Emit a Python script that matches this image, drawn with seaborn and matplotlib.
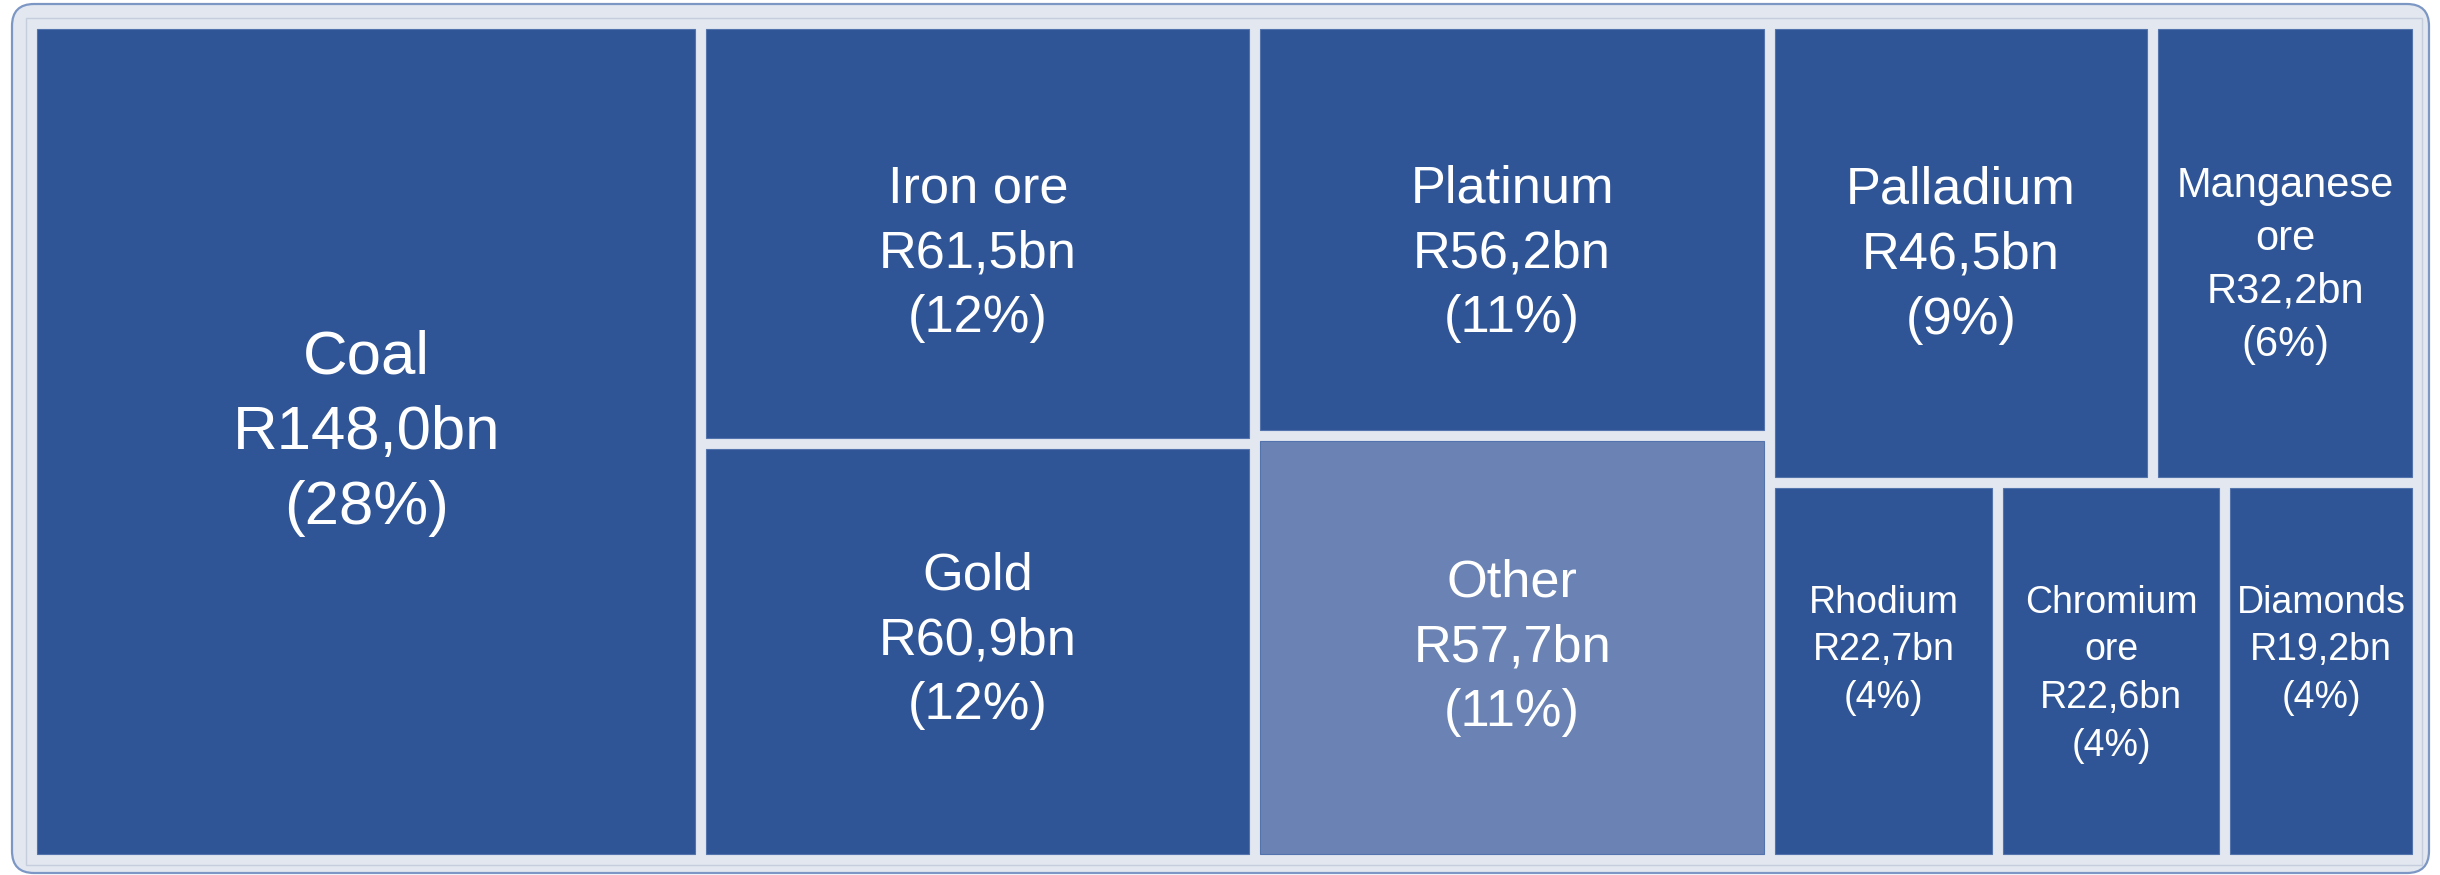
import numpy as np
import pandas as pd
import matplotlib.pyplot as plt
from matplotlib.patches import Rectangle, FancyBboxPatch
import seaborn as sns

# mining sales by mineral, R billion
minerals = ["Coal", "Iron ore", "Gold", "Platinum", "Other", "Palladium",
            "Manganese ore", "Rhodium", "Chromium ore", "Diamonds"]
sales_bn = [148.0, 61.5, 60.9, 56.2, 57.7, 46.5, 32.2, 22.7, 22.6, 19.2]

# how the tiles nest: columns, each column split into rows, rows split across
groups = [["Coal"],
          ["Iron ore", "Gold"],
          ["Platinum", "Other"],
          [["Palladium", "Manganese ore"], ["Rhodium", "Chromium ore", "Diamonds"]]]

df = pd.DataFrame({"mineral": minerals, "sales": sales_bn})
total = df["sales"].sum()
df["share"] = (df["sales"] / total * 100).round().astype(int)
df = df.set_index("mineral")

# style
W, H = 2440, 875
GAP = 11
DARK = "#2F5597"
LIGHT = "#6A83B4"
label_size = {"Coal": 44.5, "Iron ore": 37.7, "Gold": 37.7, "Platinum": 37.7,
              "Other": 37.7, "Palladium": 37.7, "Manganese ore": 30,
              "Rhodium": 27, "Chromium ore": 27, "Diamonds": 27}
# small vertical nudges (px) so the labels sit where Excel put them
label_nudge = {"Coal": -8, "Iron ore": 20, "Gold": -11, "Platinum": 24,
               "Other": 0, "Palladium": 12, "Manganese ore": 12,
               "Rhodium": 3, "Chromium ore": 3, "Diamonds": 3}


def group_total(node):
    if isinstance(node, str):
        return df.loc[node, "sales"]
    return sum(group_total(n) for n in node)


def layout(node, x0, y0, x1, y1, across, out, parent=None):
    if isinstance(node, str):
        out[node] = (x0, y0, x1, y1, parent)
        return
    tot = group_total(node)
    pos = x0 if across else y0
    for child in node:
        frac = group_total(child) / tot
        if across:
            w = (x1 - x0) * frac
            layout(child, pos, y0, pos + w, y1, False, out, (id(node), across))
            pos += w
        else:
            h = (y1 - y0) * frac
            layout(child, x0, pos, x1, pos + h, True, out, (id(node), across))
            pos += h


sns.set_theme(style="white")
plt.rcParams["font.family"] = ["Liberation Sans", "DejaVu Sans"]

fig = plt.figure(figsize=(W / 100, H / 100), dpi=100)
fig.patch.set_facecolor("white")
ax = fig.add_axes([0, 0, 1, 1])
ax.set_xlim(0, W)
ax.set_ylim(H, 0)
ax.axis("off")

# chart frame
ax.add_patch(FancyBboxPatch((12, 4), 2417, 869,
                            boxstyle="round,pad=0,rounding_size=22",
                            fc="#E2E7F0", ec="#7D97C5", lw=1.6))
ax.add_patch(Rectangle((26, 18), 2396, 847, fill=False, ec="#C6CEDE", lw=1))

rects = {}
layout(groups, 37 - GAP / 2, 29 - GAP / 2, 2412 + GAP / 2, 854 + GAP / 2,
       True, rects)

renderer = fig.canvas.get_renderer()
texts = {}
for name, (x0, y0, x1, y1, parent) in rects.items():
    color = LIGHT if name == "Other" else DARK
    ax.add_patch(Rectangle((x0 + GAP / 2, y0 + GAP / 2),
                           x1 - x0 - GAP, y1 - y0 - GAP,
                           fc=color, ec="#5373AD", lw=0.8))
    val = f"R{df.loc[name, 'sales']:.1f}bn".replace(".", ",")
    pct = f"({df.loc[name, 'share']}%)"
    cx, cy = (x0 + x1) / 2, (y0 + y1) / 2
    t = ax.text(cx, cy, f"{name}\n{val}\n{pct}", color="white",
                fontsize=label_size[name], ha="center", va="center",
                linespacing=1.42)
    if t.get_window_extent(renderer).width > (x1 - x0 - GAP) * 0.92:
        t.set_text(f"{name.replace(' ', chr(10))}\n{val}\n{pct}")
    texts[name] = t

# labels in the same row share their top line
rows = {}
for name, (x0, y0, x1, y1, parent) in rects.items():
    if parent[1]:
        rows.setdefault(parent[0], []).append(name)
for members in rows.values():
    hmax = max(texts[m].get_window_extent(renderer).height for m in members)
    for m in members:
        x0, y0, x1, y1, _ = rects[m]
        texts[m].set_va("top")
        texts[m].set_y((y0 + y1) / 2 - hmax / 2)

for name, t in texts.items():
    t.set_y(t.get_position()[1] + label_nudge[name])

fig.savefig("out.png", dpi=100, facecolor=fig.get_facecolor())
